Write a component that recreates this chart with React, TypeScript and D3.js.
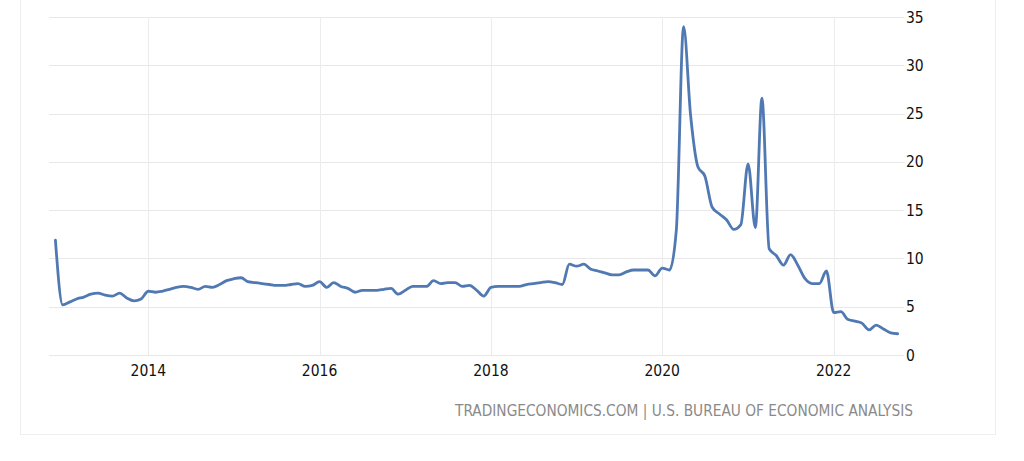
import React from "react";
import * as d3 from "d3";

const startMonth = "2012-12-01";
const savingRate: number[] = [
  11.9,
  5.2, 5.5, 5.8, 6.0, 6.3, 6.4, 6.2, 6.1, 6.4, 5.9, 5.6, 5.8,
  6.6, 6.5, 6.6, 6.8, 7.0, 7.1, 7.0, 6.8, 7.1, 7.0, 7.3, 7.7,
  7.9, 8.0, 7.6, 7.5, 7.4, 7.3, 7.2, 7.2, 7.3, 7.4, 7.1, 7.2,
  7.6, 7.0, 7.5, 7.1, 6.9, 6.5, 6.7, 6.7, 6.7, 6.8, 6.9, 6.3,
  6.7, 7.1, 7.1, 7.1, 7.7, 7.4, 7.5, 7.5, 7.1, 7.2, 6.7, 6.1,
  7.0, 7.1, 7.1, 7.1, 7.1, 7.3, 7.4, 7.5, 7.6, 7.5, 7.3, 9.4,
  9.2, 9.4, 8.9, 8.7, 8.5, 8.3, 8.3, 8.6, 8.8, 8.8, 8.8, 8.2,
  9.0, 8.8, 12.9, 34.0, 24.8, 19.5, 18.5, 15.3, 14.6, 14.0, 13.0, 13.5,
  19.8, 13.2, 26.6, 11.0, 10.3, 9.3, 10.4, 9.3, 7.9, 7.4, 7.4, 8.7,
  4.4, 4.5, 3.7, 3.5, 3.3, 2.6, 3.1, 2.7, 2.3, 2.2,
];
const yTicks = [0, 5, 10, 15, 20, 25, 30, 35];
const xTickYears = [2014, 2016, 2018, 2020, 2022];
const sourceText = "TRADINGECONOMICS.COM | U.S. BUREAU OF ECONOMIC ANALYSIS";

export default function App() {
  const width = 1024;
  const height = 461;
  const start = new Date(startMonth + "T00:00:00");
  const dates = d3.timeMonth.range(start, d3.timeMonth.offset(start, savingRate.length));
  const data = dates.map((d, i) => ({ date: d, value: savingRate[i] }));

  const x = d3
    .scaleTime()
    .domain([new Date(2014, 0, 1), new Date(2022, 0, 1)])
    .range([148.3, 833.7]);
  const y = d3.scaleLinear().domain([0, 35]).range([355, 17]);

  const line = d3
    .line<{ date: Date; value: number }>()
    .x((d) => x(d.date))
    .y((d) => y(d.value))
    .curve(d3.curveMonotoneX);

  const gridLeft = 49;
  const gridRight = 904;
  const font = "'Liberation Sans Narrow', 'DejaVu Sans Condensed', 'Open Sans', sans-serif";

  return (
    <svg
      width={width}
      height={height}
      style={{ position: "absolute", left: 0, top: 0, background: "#fff" }}
    >
      <rect x={20.5} y={-10} width={975} height={444.5} fill="none" stroke="#eeeeee" strokeWidth={1} />
      {yTicks.map((t) => (
        <line
          key={"h" + t}
          x1={gridLeft}
          x2={gridRight}
          y1={Math.round(y(t)) + 0.5}
          y2={Math.round(y(t)) + 0.5}
          stroke="#e8e8e8"
          strokeWidth={1}
        />
      ))}
      {xTickYears.map((yr) => {
        const xx = Math.round(x(new Date(yr, 0, 1))) + 0.5;
        return (
          <line key={"v" + yr} x1={xx} x2={xx} y1={y(35)} y2={y(0)} stroke="#ececec" strokeWidth={1} />
        );
      })}
      <path d={line(data) || ""} fill="none" stroke="#5079b3" strokeWidth={2.8} strokeLinejoin="round" strokeLinecap="round" />
      {yTicks.map((t) => (
        <text key={"yl" + t} x={906} y={y(t) + 5.5} fontSize={15.5} fontFamily={font} fill="#111">
          {t}
        </text>
      ))}
      {xTickYears.map((yr) => (
        <text
          key={"xl" + yr}
          x={x(new Date(yr, 0, 1))}
          y={375.5}
          fontSize={15.5}
          fontFamily={font}
          fill="#111"
          textAnchor="middle"
        >
          {yr}
        </text>
      ))}
      <text
        x={913}
        y={416}
        fontSize={15}
        fontFamily={font}
        fill="#8a8a8a"
        textAnchor="end"
        textLength={458}
        lengthAdjust="spacingAndGlyphs"
      >
        {sourceText}
      </text>
    </svg>
  );
}
